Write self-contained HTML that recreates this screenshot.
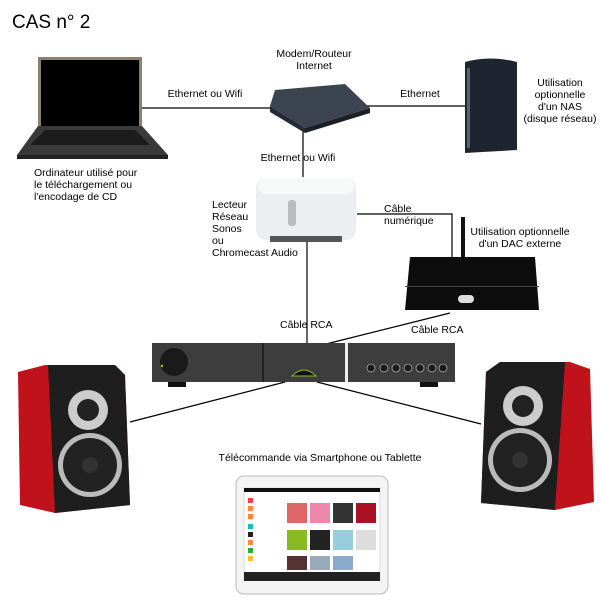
<!DOCTYPE html>
<html><head><meta charset="utf-8"><style>
body{margin:0;width:600px;height:600px;background:#fff;position:relative;overflow:hidden;font-family:"Liberation Sans",Arial,sans-serif;color:#000}
.t{position:absolute;font-size:10.5px;line-height:12px;white-space:nowrap}
.c{text-align:center}
.a{position:absolute}
</style></head><body>
<svg class="a" style="left:0;top:0" width="600" height="600">
<g stroke="#000" stroke-width="1.2" fill="none">
<line x1="142" y1="108" x2="270" y2="108"/>
<line x1="355" y1="106" x2="465" y2="106"/>
<line x1="303" y1="130" x2="303" y2="177"/>
<polyline points="357,214 452,214 452,257"/>
<line x1="307" y1="242" x2="307" y2="344"/>
<line x1="450" y1="313" x2="326" y2="344"/>
<line x1="285" y1="382" x2="130" y2="422"/>
<line x1="317" y1="382" x2="481" y2="424"/>
</g>
<polygon points="38,57 142,57 142,140 38,140" fill="#8a8070"/>
<rect x="41" y="60" width="98" height="66" fill="#000"/>
<polygon points="38,126 142,126 168,155 17,155" fill="#3a3a3a"/>
<polygon points="45,130 135,130 150,145 30,145" fill="#1c1c1c"/>
<rect x="17" y="155" width="151" height="4" fill="#222"/>
<polygon points="275,90 345,84 370,108 305,128 270,106" fill="#3c4450"/>
<polygon points="270,106 305,128 305,133 270,112" fill="#222a33"/>
<polygon points="305,128 370,108 370,113 305,133" fill="#1b2027"/>
<path d="M465,62 Q490,55 517,62 L517,150 L465,153 Z" fill="#1e2530"/>
<rect x="467" y="68" width="3" height="80" fill="#5a6470"/>
<rect x="256" y="178" width="100" height="62" rx="10" fill="#eceeef"/>
<rect x="258" y="178" width="96" height="16" rx="8" fill="#f7f8f8"/>
<rect x="288" y="200" width="8" height="26" rx="3" fill="#bbb"/>
<rect x="270" y="236" width="72" height="6" fill="#555"/>
<rect x="461" y="217" width="4" height="42" fill="#111"/>
<path d="M410,257 L535,257 L539,310 L405,310 Z" fill="#0d0d0d"/>
<rect x="405" y="286" width="134" height="1" fill="#444"/>
<rect x="458" y="295" width="16" height="8" rx="4" fill="#ddd"/>
<rect x="152" y="343" width="303" height="39" fill="#3d3d3d"/>
<rect x="262" y="343" width="2" height="39" fill="#222"/>
<rect x="345" y="343" width="3" height="39" fill="#eee"/>
<circle cx="174" cy="362" r="14" fill="#1a1a1a"/>
<circle cx="162" cy="366" r="1.2" fill="#9c0"/>
<path d="M292,376 Q304,364 316,376 Z" fill="#111" stroke="#8b3" stroke-width="1"/>
<g fill="#1a1a1a" stroke="#aaa" stroke-width="0.8"><circle cx="371" cy="368" r="4"/><circle cx="384" cy="368" r="4"/><circle cx="396" cy="368" r="4"/><circle cx="408" cy="368" r="4"/><circle cx="420" cy="368" r="4"/><circle cx="432" cy="368" r="4"/><circle cx="443" cy="368" r="4"/></g>
<rect x="168" y="382" width="18" height="5" fill="#111"/><rect x="420" y="382" width="18" height="5" fill="#111"/>
<path d="M18,372 L45,365 L115,365 L125,375 L130,505 L55,513 L20,505 Z" fill="#c0121a"/>
<path d="M48,365 L115,365 L125,375 L130,505 L55,513 Z" fill="#1e1e1e"/>
<circle cx="88" cy="410" r="20" fill="#ccc"/><circle cx="88" cy="410" r="11" fill="#222"/>
<circle cx="90" cy="465" r="32" fill="#bbb"/><circle cx="90" cy="465" r="27" fill="#222"/><circle cx="90" cy="465" r="8" fill="#333"/>
<path d="M590,369 L570,362 L500,362 L486,372 L481,503 L555,510 L594,502 Z" fill="#c0121a"/>
<path d="M565,362 L500,362 L486,372 L481,503 L555,510 Z" fill="#1e1e1e"/>
<circle cx="523" cy="406" r="20" fill="#ccc"/><circle cx="523" cy="406" r="11" fill="#222"/>
<circle cx="520" cy="460" r="32" fill="#bbb"/><circle cx="520" cy="460" r="27" fill="#222"/><circle cx="520" cy="460" r="8" fill="#333"/>
<rect x="236" y="476" width="152" height="118" rx="8" fill="#f4f4f4" stroke="#bbb"/>
<rect x="244" y="488" width="136" height="92" fill="#fff" stroke="#ddd"/>
<rect x="244" y="488" width="136" height="4" fill="#111"/>
<rect x="244" y="572" width="136" height="9" fill="#222"/>
<rect x="287" y="503" width="20" height="20" fill="#d66"/><rect x="310" y="503" width="20" height="20" fill="#e8a"/><rect x="333" y="503" width="20" height="20" fill="#333"/><rect x="356" y="503" width="20" height="20" fill="#a12"/>
<rect x="287" y="530" width="20" height="20" fill="#8b2"/><rect x="310" y="530" width="20" height="20" fill="#222"/><rect x="333" y="530" width="20" height="20" fill="#9cd"/><rect x="356" y="530" width="20" height="20" fill="#ddd"/>
<rect x="287" y="556" width="20" height="14" fill="#533"/><rect x="310" y="556" width="20" height="14" fill="#9ab"/><rect x="333" y="556" width="20" height="14" fill="#8ac"/>
<rect x="248" y="498" width="5" height="5" fill="#e44"/><rect x="248" y="506" width="5" height="5" fill="#f84"/><rect x="248" y="514" width="5" height="5" fill="#f84"/><rect x="248" y="524" width="5" height="5" fill="#2bb"/><rect x="248" y="532" width="5" height="5" fill="#222"/><rect x="248" y="540" width="5" height="5" fill="#f84"/><rect x="248" y="548" width="5" height="5" fill="#3a3"/><rect x="248" y="556" width="5" height="5" fill="#fb3"/>
</svg>
<div class="t" style="left:12px;top:12px;font-size:19px;line-height:22px">CAS n° 2</div>
<div class="t c" style="left:264px;top:48px;width:100px">Modem/Routeur<br>Internet</div>
<div class="t c" style="left:155px;top:88px;width:100px">Ethernet ou Wifi</div>
<div class="t c" style="left:390px;top:88px;width:60px">Ethernet</div>
<div class="t c" style="left:515px;top:77px;width:90px">Utilisation<br>optionnelle<br>d'un NAS<br>(disque réseau)</div>
<div class="t c" style="left:248px;top:152px;width:100px">Ethernet ou Wifi</div>
<div class="t" style="left:34px;top:167px">Ordinateur utilisé pour<br>le téléchargement ou<br>l'encodage de CD</div>
<div class="t" style="left:212px;top:199px">Lecteur<br>Réseau<br>Sonos<br>ou<br>Chromecast Audio</div>
<div class="t" style="left:384px;top:203px">Câble<br>numérique</div>
<div class="t c" style="left:460px;top:226px;width:120px">Utilisation optionnelle<br>d'un DAC externe</div>
<div class="t" style="left:280px;top:319px">Câble RCA</div>
<div class="t" style="left:411px;top:324px">Câble RCA</div>
<div class="t c" style="left:200px;top:452px;width:240px">Télécommande via Smartphone ou Tablette</div>
</body></html>
